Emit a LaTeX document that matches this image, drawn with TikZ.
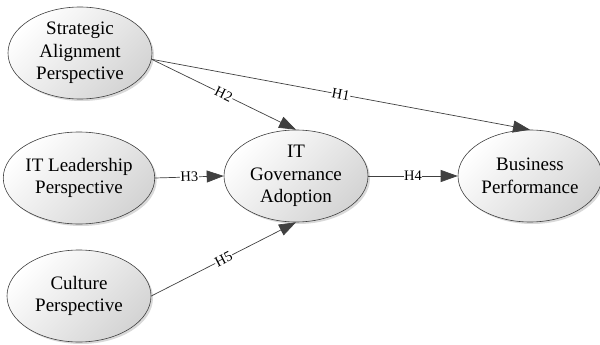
\documentclass[tikz,border=0pt]{standalone}
\usepackage{fontspec}
\setmainfont{Liberation Serif}
\newfontfamily\diagramfont{Liberation Serif}
\usetikzlibrary{shapes.geometric,arrows.meta,shadows}
\tikzset{
  construct/.style={ellipse, draw=black!75, line width=0.6pt,
    minimum width=144pt, minimum height=92pt, inner sep=0pt,
    align=center, font=\diagramfont\fontsize{19}{22.5}\selectfont,
    shade, top color=white, bottom color=black!17, shading angle=45,
    drop shadow={shadow xshift=2pt, shadow yshift=-2pt, opacity=0.25, fill=black!60}},
  hpath/.style={draw=black!75, line width=0.7pt,
    -{Triangle[length=17pt, width=12pt]}},
  hyp/.style={fill=white, inner sep=0.6pt, sloped,
    font=\diagramfont\fontsize{14.5}{15}\selectfont}
}
\begin{document}
\begin{tikzpicture}[x=1pt, y=-1pt]
  \useasboundingbox (0,0) rectangle (600,345);
  % constructs
  \node[construct] (sap) at (80,53) {Strategic\\Alignment\\Perspective};
  \node[construct] (itl) at (79,178) {IT Leadership\\Perspective};
  \node[construct] (cul) at (79,296) {Culture\\Perspective};
  \node[construct] (itg) at (296,176) {IT\\Governance\\Adoption};
  \node[construct] (bp)  at (530,176) {Business\\Performance};
  % hypothesised paths
  \draw[hpath] (sap.-5) -- node[hyp] {H1} (bp.north);
  \draw[hpath] (sap.-5) -- node[hyp] {H2} (itg.north);
  \draw[hpath] (itl.east) -- node[hyp] {H3} (itg.west);
  \draw[hpath] (itg.east) -- node[hyp] {H4} (bp.west);
  \draw[hpath] (cul.east) -- node[hyp] {H5} (itg.south);
\end{tikzpicture}
\end{document}
